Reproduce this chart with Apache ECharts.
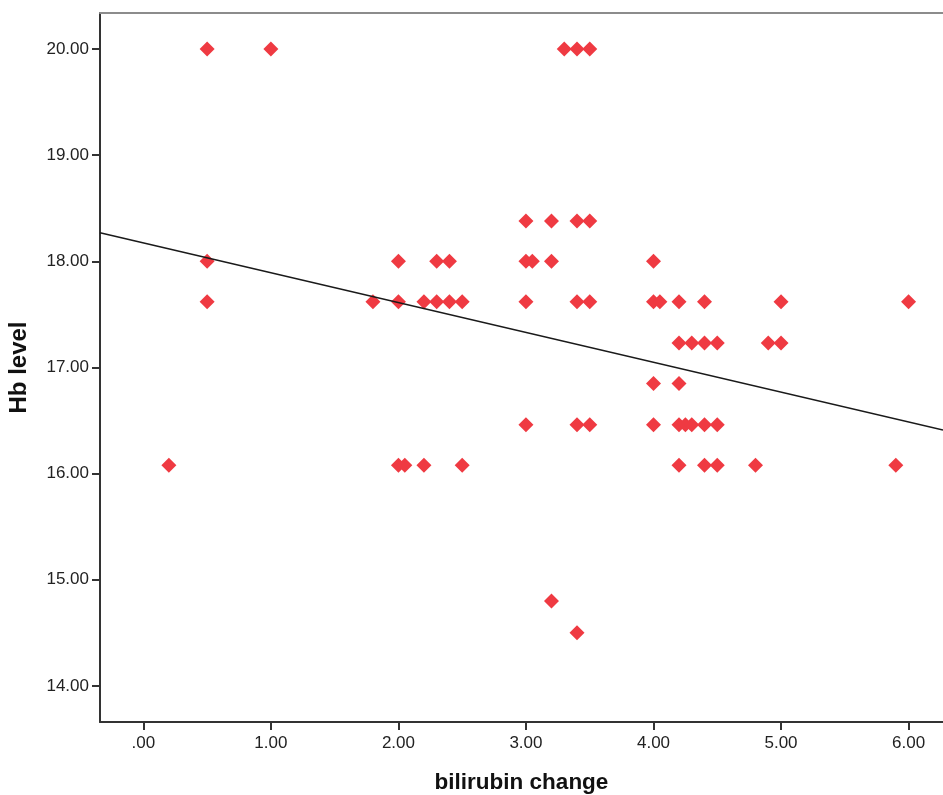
<!DOCTYPE html>
<html>
<head>
<meta charset="utf-8">
<title>Hb level vs bilirubin change</title>
<script src="https://cdn.jsdelivr.net/npm/echarts@6/dist/echarts.min.js"></script>
<style>
  html, body { margin: 0; padding: 0; background: #fff; }
  #chart { width: 943px; height: 795px; }
</style>
</head>
<body>
<div id="chart"></div>
<script>
// values: bilirubin change (x) and Hb level (y)
var bilirubin = [
  0.5, 1.0, 3.3, 3.4, 3.5,
  3.0, 3.2, 3.4, 3.5,
  0.5, 2.0, 2.3, 2.4, 3.0, 3.05, 3.2, 4.0,
  0.5, 1.8, 2.0, 2.2, 2.3, 2.4, 2.5, 3.0, 3.4, 3.5, 4.0, 4.05, 4.2, 4.4, 5.0, 6.0,
  4.2, 4.3, 4.4, 4.5, 4.9, 5.0,
  4.0, 4.2,
  3.0, 3.4, 3.5, 4.0, 4.2, 4.25, 4.3, 4.4, 4.5,
  0.2, 2.0, 2.05, 2.2, 2.5, 4.2, 4.4, 4.5, 4.8, 5.9,
  3.2,
  3.4
];
var hbLevel = [
  20.0, 20.0, 20.0, 20.0, 20.0,
  18.38, 18.38, 18.38, 18.38,
  18.0, 18.0, 18.0, 18.0, 18.0, 18.0, 18.0, 18.0,
  17.62, 17.62, 17.62, 17.62, 17.62, 17.62, 17.62, 17.62, 17.62, 17.62, 17.62, 17.62, 17.62, 17.62, 17.62, 17.62,
  17.23, 17.23, 17.23, 17.23, 17.23, 17.23,
  16.85, 16.85,
  16.46, 16.46, 16.46, 16.46, 16.46, 16.46, 16.46, 16.46, 16.46,
  16.08, 16.08, 16.08, 16.08, 16.08, 16.08, 16.08, 16.08, 16.08, 16.08,
  14.8,
  14.5
];
// fit line end points, as read at the plot edges
var fitX = [-0.34, 6.27];
var fitY = [18.27, 16.41];

var xTicks = [0, 1, 2, 3, 4, 5, 6];
var yTicks = [14, 15, 16, 17, 18, 19, 20];

var points = bilirubin.map(function (x, i) { return [x, hbLevel[i]]; });
var fitLine = fitX.map(function (x, i) { return [x, fitY[i]]; });

var font = '"Liberation Sans", Arial, sans-serif';
var axisColor = '#333';

var myChart = echarts.init(document.getElementById('chart'));
myChart.setOption({
  animation: false,
  backgroundColor: '#fff',
  grid: {
    left: 100,
    right: 0,
    top: 13,
    bottom: 73,
    containLabel: false,
    outerBoundsMode: 'none'
  },
  xAxis: [
    {
      type: 'value',
      min: -0.34,
      max: 6.27,
      name: 'bilirubin change',
      nameLocation: 'middle',
      nameGap: 49,
      nameTextStyle: { fontFamily: font, fontSize: 22.5, fontWeight: 'bold', color: '#111' },
      splitLine: { show: false },
      axisLine: { show: true, onZero: false, lineStyle: { color: axisColor, width: 2 } },
      axisTick: { show: true, length: 8, customValues: xTicks, lineStyle: { color: axisColor, width: 2 } },
      axisLabel: {
        customValues: xTicks,
        margin: 13,
        fontFamily: font,
        fontSize: 17,
        color: '#222',
        formatter: function (v) { return v === 0 ? '.00' : v.toFixed(2); }
      }
    },
    {
      // top frame line
      type: 'value',
      position: 'top',
      min: -0.34,
      max: 6.27,
      splitLine: { show: false },
      axisLine: { show: true, lineStyle: { color: '#8c8c8c', width: 2 } },
      axisTick: { show: false },
      axisLabel: { show: false }
    }
  ],
  yAxis: {
    type: 'value',
    min: 13.66,
    max: 20.34,
    name: 'Hb level',
    nameLocation: 'middle',
    nameGap: 69,
    nameTextStyle: { fontFamily: font, fontSize: 24, fontWeight: 'bold', color: '#111' },
    splitLine: { show: false },
    axisLine: { show: true, onZero: false, lineStyle: { color: axisColor, width: 2 } },
    axisTick: { show: true, length: 8, customValues: yTicks, lineStyle: { color: axisColor, width: 2 } },
    axisLabel: {
      customValues: yTicks,
      margin: 11,
      fontFamily: font,
      fontSize: 17,
      color: '#222',
      formatter: function (v) { return v.toFixed(2); }
    }
  },
  series: [
    {
      name: 'Hb level',
      type: 'scatter',
      symbol: 'diamond',
      symbolSize: 15,
      itemStyle: { color: '#ef3a42', opacity: 1 },
      data: points
    },
    {
      name: 'fit',
      type: 'line',
      symbol: 'none',
      silent: true,
      z: 3,
      lineStyle: { color: '#1a1a1a', width: 1.5 },
      data: fitLine
    }
  ]
});
</script>
</body>
</html>
